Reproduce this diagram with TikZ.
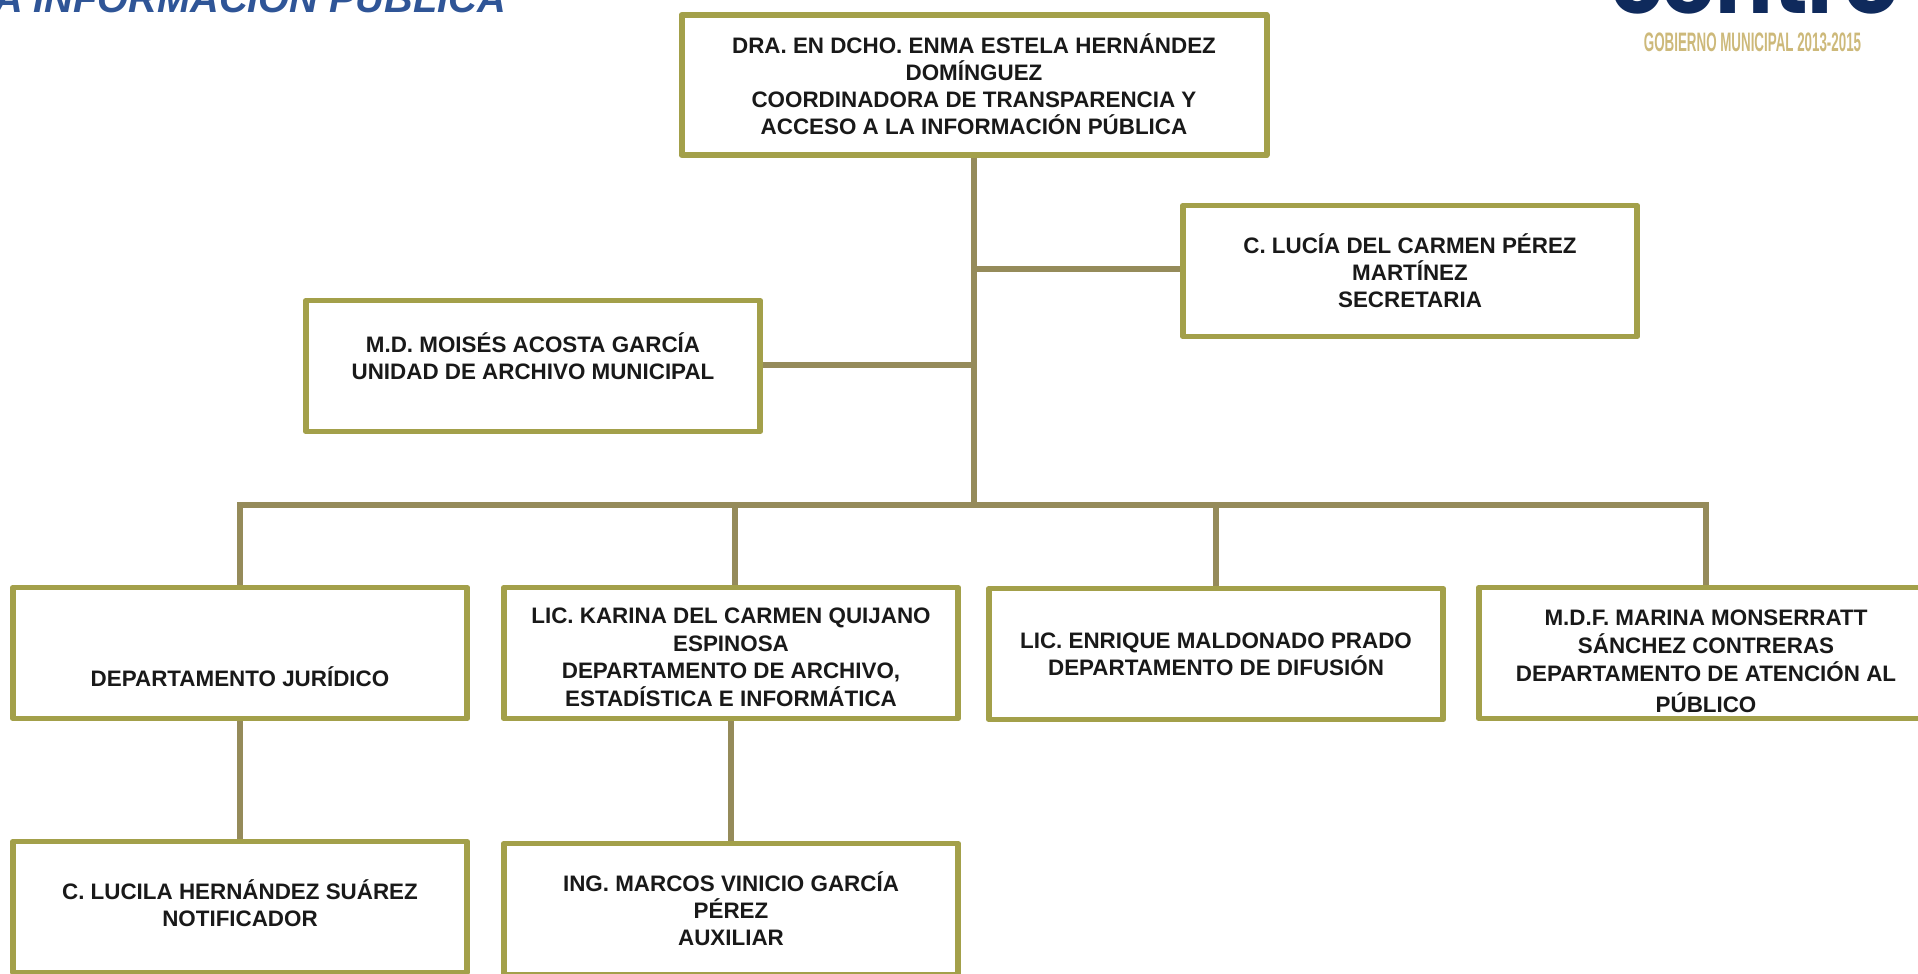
\documentclass[tikz,border=0pt]{standalone}
\usepackage{fontspec}
\setmainfont{Liberation Sans}
\newfontfamily\logofont{Poppins}
\usepackage{tikz}
\definecolor{boxolive}{HTML}{A3A04A}
\definecolor{lineolive}{HTML}{958B5A}
\definecolor{titleblue}{HTML}{2F5597}
\definecolor{logonavy}{HTML}{0F2A5C}
\definecolor{logotan}{HTML}{CDB97A}
\newcommand{\tope}[1]{\rule{0pt}{#1}}
\newcommand{\pie}[1]{\rule[-#1]{0pt}{#1}}

\begin{document}
\begin{tikzpicture}[line join=round]
            \useasboundingbox (0,0) rectangle (19.18,-9.74);

            \node (titulo) at (2.50,0.05) {\fontsize{11.3pt}{13pt}\selectfont\bfseries\itshape\color{titleblue} A INFORMACI\'ON P\'UBLICA};
            \node (centro) [anchor=base,inner sep=0pt] at (17.55,-0.14) {\fontsize{24.3pt}{26pt}\selectfont\logofont\bfseries\color{logonavy} centro};
            \node (gobierno) [xscale=0.50,inner sep=0pt,transform shape] at (17.525,-0.42) {\fontsize{7.6pt}{9pt}\selectfont\bfseries\color{logotan} GOBIERNO MUNICIPAL 2013-2015};

            \begin{scope}[every node/.style={rectangle,draw=boxolive,line width=1.7pt,fill=white,align=center,inner sep=0pt,font=\fontsize{6.37pt}{7.68pt}\selectfont\bfseries,text=black!90}]
                \node (coord) [minimum width=5.85cm,minimum height=1.40cm] at (9.74,-0.85) {DRA. EN DCHO. ENMA ESTELA HERN\'ANDEZ\\DOM\'INGUEZ\\COORDINADORA DE TRANSPARENCIA Y\\ACCESO A LA INFORMACI\'ON P\'UBLICA\pie{.7pt}};
                \node (secre) [minimum width=4.54cm,minimum height=1.31cm] at (14.10,-2.71) {C. LUC\'IA DEL CARMEN P\'EREZ\\MART\'INEZ\\SECRETARIA};
                \node (archivo) [minimum width=4.54cm,minimum height=1.31cm] at (5.33,-3.66) {M.D. MOIS\'ES ACOSTA GARC\'IA\\UNIDAD DE ARCHIVO MUNICIPAL\pie{5.7pt}};
                \node (juridico) [minimum width=4.54cm,minimum height=1.31cm] at (2.40,-6.53) {\tope{19.2pt}DEPARTAMENTO JUR\'IDICO};
                \node (karina) [minimum width=4.54cm,minimum height=1.31cm] at (7.31,-6.53) {\tope{6.9pt}LIC. KARINA DEL CARMEN QUIJANO\\[.25pt]ESPINOSA\\[.25pt]DEPARTAMENTO DE ARCHIVO,\\[.25pt]ESTAD\'ISTICA E INFORM\'ATICA};
                \node (difusion) [minimum width=4.54cm,minimum height=1.31cm] at (12.16,-6.54) {LIC. ENRIQUE MALDONADO PRADO\\DEPARTAMENTO DE DIFUSI\'ON};
                \node (publico) [minimum width=4.54cm,minimum height=1.31cm] at (17.06,-6.53) {\tope{9.3pt}M.D.F. MARINA MONSERRATT\\[.25pt]S\'ANCHEZ CONTRERAS\\[.25pt]DEPARTAMENTO DE ATENCI\'ON AL\\[1.2pt]P\'UBLICO};
                \node (notif) [minimum width=4.54cm,minimum height=1.31cm] at (2.40,-9.07) {C. LUCILA HERN\'ANDEZ SU\'AREZ\\NOTIFICADOR\pie{2pt}};
                \node (auxiliar) [minimum width=4.54cm,minimum height=1.31cm] at (7.31,-9.09) {ING. MARCOS VINICIO GARC\'IA\\P\'EREZ\\AUXILIAR};
            \end{scope}

            \coordinate (tronco) at (9.74,-5.05);
            \coordinate (ramasec) at (9.74,-2.69);
            \coordinate (ramaarc) at (9.74,-3.65);
            \coordinate (bus1) at (2.40,-5.05);
            \coordinate (bus2) at (7.35,-5.05);
            \coordinate (bus3) at (12.16,-5.05);
            \coordinate (bus4) at (17.06,-5.05);

            \begin{scope}[every path/.style={draw=lineolive,line width=1.5pt}]
                \path (coord.south -| tronco) edge node {} (tronco);
                \path (ramasec) edge node {} (secre.west |- ramasec);
                \path (ramaarc) edge node {} (archivo.east |- ramaarc);
                \path [line cap=rect] (bus1) edge node {} (bus4);
                \path (bus1) edge node {} (juridico.north);
                \path (bus2) edge node {} (karina.north -| bus2);
                \path (bus3) edge node {} (difusion.north);
                \path (bus4) edge node {} (publico.north);
                \path (juridico.south) edge node {} (notif.north);
                \path (karina.south) edge node {} (auxiliar.north);
            \end{scope}
            \end{tikzpicture}
\end{document}
